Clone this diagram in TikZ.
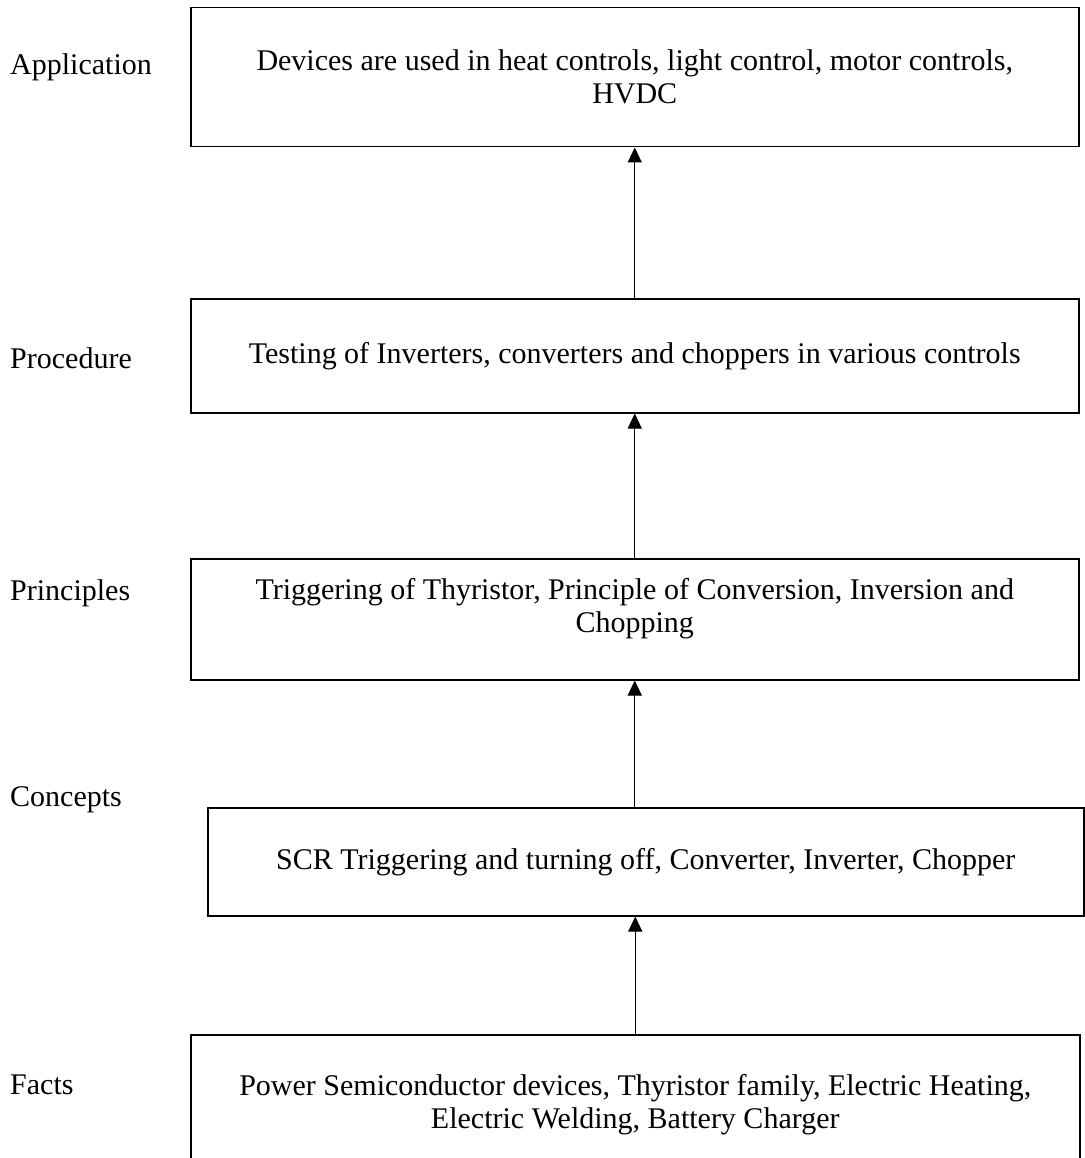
\documentclass[tikz,border=0pt]{standalone}
\usepackage{fontspec}
\setmainfont{Liberation Serif}
\usetikzlibrary{arrows.meta, positioning}

\begin{document}
\begin{tikzpicture}[x=1pt, y=-1pt, font=\fontsize{30}{33}\selectfont, >={Triangle[width=14pt,length=15pt]}]
  % Define styles
  \tikzstyle{level} = [rectangle, draw=black, line width=1.5pt, align=center, anchor=north west, inner sep=0pt]
  \tikzstyle{tag} = [anchor=west, inner sep=0pt]
  \tikzstyle{line} = [draw, ->, line width=1pt]

  \useasboundingbox (0,0) rectangle (1084,1158);

  % Place nodes
  \node [level, minimum width=888pt, minimum height=139pt] (application) at (190,7) {Devices are used in heat controls, light control, motor controls,\\ HVDC};
  \node [level, minimum width=888pt, minimum height=114pt] (procedure) at (190,298) {Testing of Inverters, converters and choppers in various controls};
  \node [level, minimum width=888pt, minimum height=121pt, text depth=28pt] (principles) at (190,558) {Triggering of Thyristor, Principle of Conversion, Inversion and\\ Chopping};
  \node [level, minimum width=876pt, minimum height=108pt] (concepts) at (207,807) {SCR Triggering and turning off, Converter, Inverter, Chopper};
  \node [level, minimum width=889pt, minimum height=140pt] (facts) at (190,1034) {Power Semiconductor devices, Thyristor family, Electric Heating,\\ Electric Welding, Battery Charger};

  % Level names
  \node [tag] (appLabel) at (10,67) {Application};
  \node [tag] (procLabel) at (10,358) {Procedure};
  \node [tag] (princLabel) at (10,593) {Principles};
  \node [tag] (conLabel) at (10,800) {Concepts};
  \node [tag] (factLabel) at (10,1085) {Facts};

  % Draw edges
  \path [line] (procedure.north) -- (application.south);
  \path [line] (principles.north) -- (procedure.south);
  \path [line] (concepts.north -| principles.south) -- (principles.south);
  \path [line] (facts.north) -- (concepts.south -| facts.north);
\end{tikzpicture}
\end{document}
